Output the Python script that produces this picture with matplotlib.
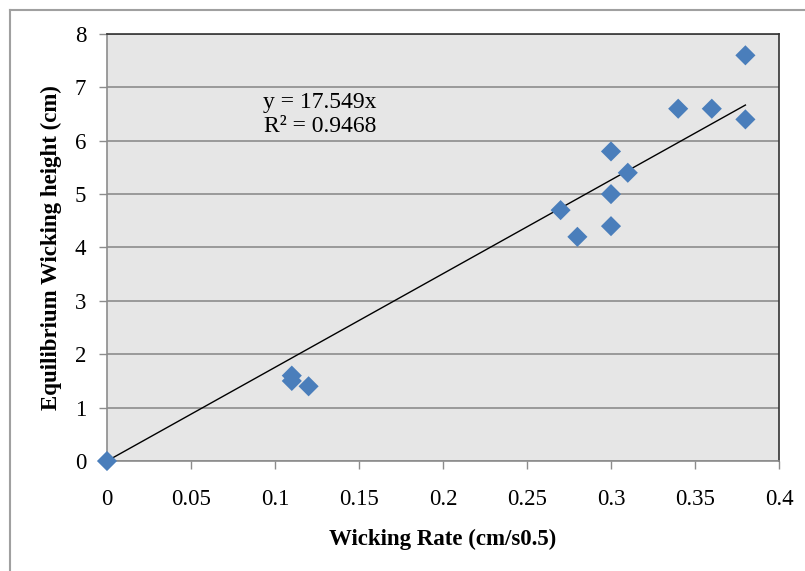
import matplotlib
matplotlib.use('Agg')
import matplotlib.pyplot as plt
from matplotlib.lines import Line2D

# wicking rate (cm/s^0.5) vs equilibrium wicking height (cm)
rate = [0, 0.11, 0.11, 0.12, 0.27, 0.28, 0.30, 0.30, 0.30, 0.31, 0.34, 0.36, 0.38, 0.38]
height = [0, 1.6, 1.5, 1.4, 4.7, 4.2, 5.8, 5.0, 4.4, 5.4, 6.6, 6.6, 7.6, 6.4]
slope = 17.549
r2 = 0.9468
xticks = [0, 0.05, 0.1, 0.15, 0.2, 0.25, 0.3, 0.35, 0.4]
xticklabels = ['0', '0.05', '0.1', '0.15', '0.2', '0.25', '0.3', '0.35', '0.4']
yticks = list(range(0, 9))

plt.rcParams['font.family'] = ['Liberation Serif', 'DejaVu Serif']

fig = plt.figure(figsize=(8.05, 5.71), dpi=100)
ax = fig.add_axes([0.1329, 0.1926, 0.8348, 0.7479])
ax.set_facecolor('#e6e6e6')

# outer chart frame (only left and top visible in the crop)
fig.add_artist(Line2D([0.012, 0.012], [0, 0.983], transform=fig.transFigure, color='#a0a0a0', lw=1.5))
fig.add_artist(Line2D([0.012, 1.0], [0.983, 0.983], transform=fig.transFigure, color='#a0a0a0', lw=1.5))

ax.grid(axis='y', color='#8c8c8c', lw=1.2)
ax.set_axisbelow(True)

# trendline through origin
x_max = max(rate)
ax.plot([0, x_max], [0, slope * x_max], color='black', lw=1, zorder=2)
ax.scatter(rate, height, marker='D', s=105, color='#4a7ebb', edgecolors='none', zorder=3, clip_on=False)

ax.text(0.317, 0.811, f'y = {slope}x\nR² = {r2}', transform=ax.transAxes,
        fontsize=17, ha='center', va='center', linespacing=1.2)

ax.set_xlim(0, 0.4)
ax.set_ylim(0, 8)
ax.set_xticks(xticks)
ax.set_xticklabels(xticklabels)
ax.set_yticks(yticks)
ax.tick_params(axis='both', labelsize=16.5, color='#8c8c8c', length=6, width=1)
ax.tick_params(axis='x', pad=14)
ax.tick_params(axis='y', pad=9)

for side in ['left', 'bottom']:
    ax.spines[side].set_color('#8c8c8c')
    ax.spines[side].set_linewidth(1.2)
for side in ['top', 'right']:
    ax.spines[side].set_color('#333333')
    ax.spines[side].set_linewidth(1.2)

ax.set_xlabel('Wicking Rate (cm/s0.5)', fontsize=16.5, fontweight='bold', labelpad=14)
ax.set_ylabel('Equilibrium Wicking height (cm)', fontsize=16.5, fontweight='bold', labelpad=9)

fig.savefig('out.png', dpi=100)
